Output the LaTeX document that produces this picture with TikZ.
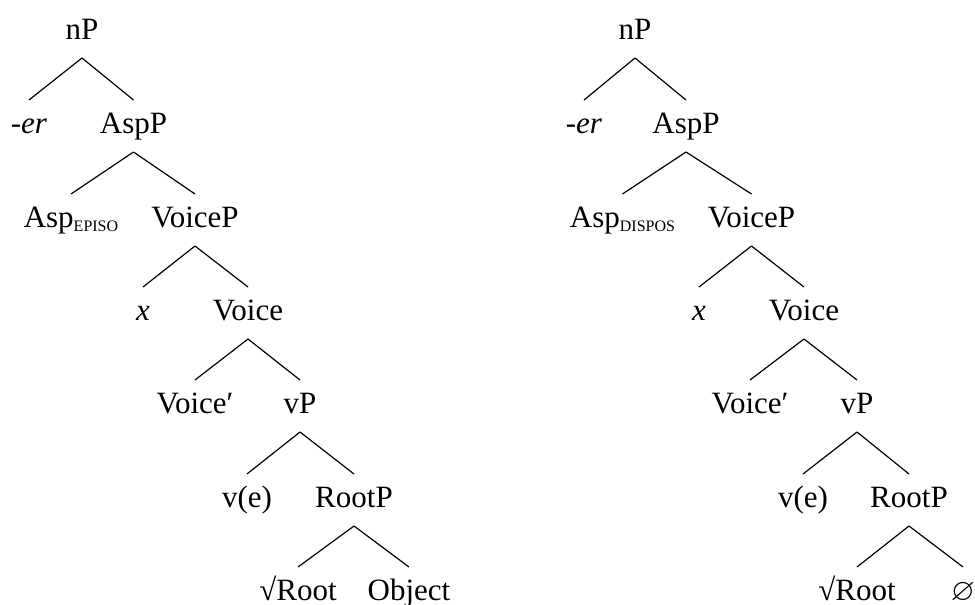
\documentclass[tikz,border=0pt]{standalone}
\usepackage{amssymb}
\usepackage{fontspec}
\setmainfont{Liberation Serif}
\newcommand{\subsc}[1]{\raisebox{-4pt}{\fontsize{16}{18}\selectfont #1}}
\begin{document}
\begin{tikzpicture}[x=1pt,y=-1pt,
  lbl/.style={anchor=base,inner sep=0pt,font=\fontsize{31}{36}\selectfont},
  branch/.style={line width=1.2pt}]
\useasboundingbox (0,0) rectangle (975,605);
% left tree
\node[lbl] (ln) at (82,39) {nP};
\node[lbl] (ler) at (29,133) {-\textit{er}};
\node[lbl] (lasp) at (133.5,133) {AspP};
\node[lbl] (lasph) at (71,227) {Asp\subsc{EPISO}};
\node[lbl] (lvp) at (195,227) {VoiceP};
\node[lbl] (lx) at (143,320) {\textit{x}};
\node[lbl] (lvoice) at (248,320) {Voice};
\node[lbl] (lvprime) at (195,413) {Voice′};
\node[lbl] (lsvp) at (300,413) {vP};
\node[lbl] (lve) at (247,507) {v(e)};
\node[lbl] (lrootp) at (354,507) {RootP};
\node[lbl] (lroot) at (298,600) {√Root};
\node[lbl] (lobj) at (409,600) {Object};
% right tree
\node[lbl] (rn) at (635,39) {nP};
\node[lbl] (rer) at (584,133) {-\textit{er}};
\node[lbl] (rasp) at (686,133) {AspP};
\node[lbl] (rasph) at (622.5,227) {Asp\subsc{DISPOS}};
\node[lbl] (rvp) at (751.5,227) {VoiceP};
\node[lbl] (rx) at (699,320) {\textit{x}};
\node[lbl] (rvoice) at (804,320) {Voice};
\node[lbl] (rvprime) at (750,413) {Voice′};
\node[lbl] (rsvp) at (857,413) {vP};
\node[lbl] (rve) at (803,507) {v(e)};
\node[lbl] (rrootp) at (909,507) {RootP};
\node[lbl] (rroot) at (857,600) {√Root};
\node[lbl] (rnull) at (963,600) {$\varnothing$};
\foreach \p/\c in {ln/ler,ln/lasp,lasp/lasph,lasp/lvp,lvp/lx,lvp/lvoice,lvoice/lvprime,lvoice/lsvp,lsvp/lve,lsvp/lrootp,lrootp/lroot,lrootp/lobj,
  rn/rer,rn/rasp,rasp/rasph,rasp/rvp,rvp/rx,rvp/rvoice,rvoice/rvprime,rvoice/rsvp,rsvp/rve,rsvp/rrootp,rrootp/rroot,rrootp/rnull}
  \draw[branch] ([yshift=-19pt]\p.base) -- ([yshift=33pt]\c.base);
\end{tikzpicture}
\end{document}
